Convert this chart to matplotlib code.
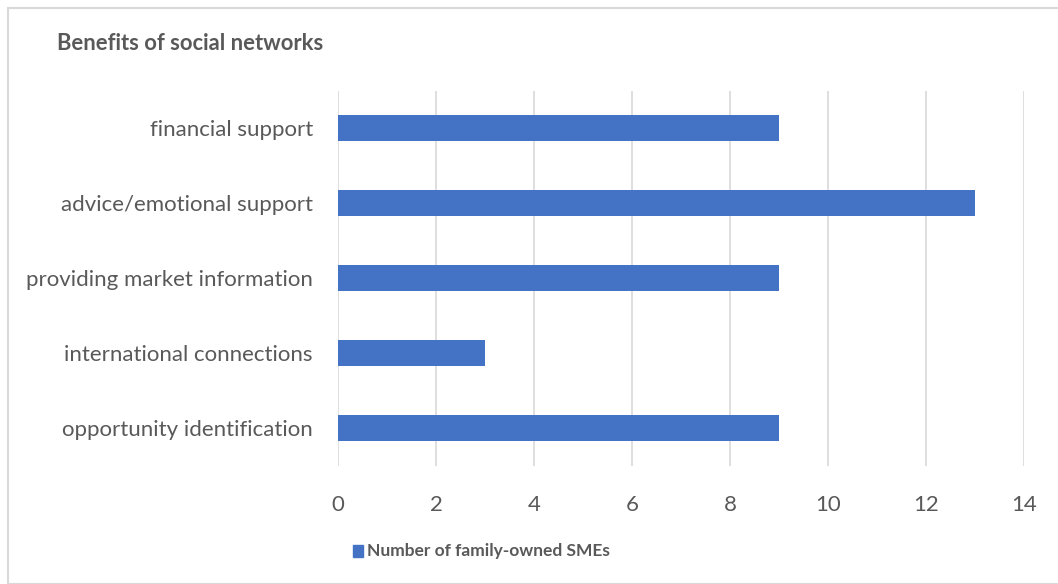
import matplotlib.pyplot as plt
from matplotlib.patches import Rectangle

categories = ["opportunity identification", "international connections",
              "providing market information", "advice/emotional support",
              "financial support"]
values = [9, 3, 9, 13, 9]
xticks = [0, 2, 4, 6, 8, 10, 12, 14]
series_name = "Number of family-owned SMEs"
title = "Benefits of social networks"

plt.rcParams['font.family'] = ['Lato', 'DejaVu Sans']
gray = "#595959"
blue = "#4472C4"

fig = plt.figure(figsize=(10.58, 5.84), dpi=100)
# outer chart border
fig.patches.append(Rectangle((8/1058, 0), 1.2, 1 - 8/584, transform=fig.transFigure,
                             fill=False, edgecolor="#D9D9D9", linewidth=1.5))

ax = fig.add_axes([338/1058, 1 - 465.5/584, 686/1058, 375/584])
ax.barh(range(len(categories)), values, height=0.35, color=blue, zorder=3)
ax.set_xlim(0, 14)
ax.set_ylim(-0.5, len(categories) - 0.5)
ax.set_xticks(xticks)
ax.set_yticks(range(len(categories)))
ax.set_yticklabels(categories)
ax.grid(axis="x", color="#D9D9D9", linewidth=1.2, zorder=0)
for s in ax.spines.values():
    s.set_visible(False)
ax.tick_params(axis="both", length=0, labelsize=16, labelcolor=gray)
ax.tick_params(axis="x", pad=21)
ax.tick_params(axis="y", pad=18)

fig.text(57/1058, 1 - 44/584, title, fontsize=15.8, fontweight="bold", color=gray,
         va="center", ha="left")

# legend
fig.patches.append(Rectangle((353/1058, 1 - 557/584), 10/1058, 12/584,
                             transform=fig.transFigure, color=blue))
fig.text(367/1058, 1 - 551/584, series_name, fontsize=12.5, fontweight="bold",
         color=gray, va="center", ha="left")

fig.savefig("out.png", dpi=100)
